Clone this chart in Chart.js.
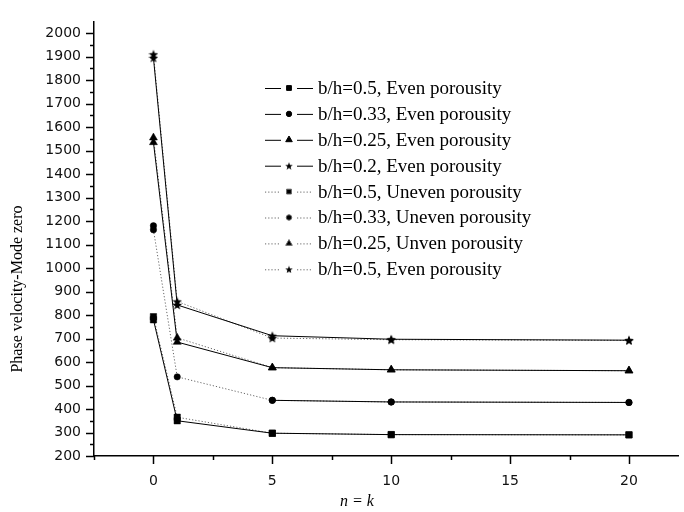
<!DOCTYPE html>
<html>
<head>
<meta charset="utf-8">
<script src="https://cdn.jsdelivr.net/npm/chart.js@4"></script>
<style>
  html, body { margin: 0; padding: 0; background: #fff; overflow: hidden; }
  #wrap { width: 684px; height: 512px; position: relative; }
</style>
</head>
<body>
<div id="wrap"><canvas id="myChart" width="684" height="512"></canvas></div>
<script>
// x positions (n = k)
const xValues = [0, 1, 5, 10, 20];

// phase velocity, mode zero
const evenB05 = [780, 350, 297, 291, 290];
const evenB033 = [1180, null, 437, 430, 428];
const evenB025 = [1535, 685, 576, 567, 563];
const evenB02 = [1895, 843, 712, 697, 693];
const unevenB05 = [793, 365, 297, 291, 290];
const unevenB033 = [1163, 537, 437, 430, 428];
const unevenB025 = [1555, 703, 576, 567, 563];
const unevenStar = [1910, 858, 702, 695, 692];

const seriesLabels = [
  "b/h=0.5, Even porousity",
  "b/h=0.33, Even porousity",
  "b/h=0.25, Even porousity",
  "b/h=0.2, Even porousity",
  "b/h=0.5, Uneven porousity",
  "b/h=0.33, Uneven porousity",
  "b/h=0.25, Unven porousity",
  "b/h=0.5, Even porousity",
];

// major tick labels; minor ticks sit halfway between them
const xTickLabels = [0, 5, 10, 15, 20];
const yTickLabels = [200, 300, 400, 500, 600, 700, 800, 900, 1000, 1100,
  1200, 1300, 1400, 1500, 1600, 1700, 1800, 1900, 2000];

// filled five point star, used as a point style
function makeStar(size) {
  const c = document.createElement("canvas");
  c.width = size;
  c.height = size;
  const g = c.getContext("2d");
  g.fillStyle = "#000";
  g.beginPath();
  for (let i = 0; i < 10; i++) {
    const r = i % 2 ? size * 0.21 : size * 0.5;
    const a = -Math.PI / 2 + (i * Math.PI) / 5;
    g.lineTo(size / 2 + r * Math.cos(a), size / 2 + 0.5 + r * Math.sin(a));
  }
  g.closePath();
  g.fill();
  return c;
}
const starBig = makeStar(10);
const starSmall = makeStar(8);

function pts(values) {
  return values.map((v, i) => ({ x: xValues[i], y: v }));
}

const solidStyle = { borderColor: "#000", borderWidth: 1, borderDash: [] };
const dotStyle = { borderColor: "#666", borderWidth: 1, borderDash: [1.2, 2] };

function series(label, values, line, style, radius, legendStyle, legendRadius) {
  return {
    label: label,
    data: pts(values),
    borderColor: line.borderColor,
    borderWidth: line.borderWidth,
    borderDash: line.borderDash,
    pointStyle: style,
    pointRadius: radius,
    pointBackgroundColor: "#000",
    pointBorderColor: "#000",
    pointBorderWidth: 0.5,
    tension: 0,
    fill: false,
    spanGaps: false,
    legendStyle: legendStyle,
    legendRadius: legendRadius,
  };
}

const datasets = [
  series(seriesLabels[0], evenB05, solidStyle, "rect", 4.5, "rect", 3.4),
  series(seriesLabels[1], evenB033, solidStyle, "circle", 3.2, "circle", 2.7),
  series(seriesLabels[2], evenB025, solidStyle, "triangle", 4.6, "triangle", 3.8),
  series(seriesLabels[3], evenB02, solidStyle, starBig, 4, starSmall, 4),
  series(seriesLabels[4], unevenB05, dotStyle, "rect", 4.5, "rect", 3.4),
  series(seriesLabels[5], unevenB033, dotStyle, "circle", 3.2, "circle", 2.7),
  series(seriesLabels[6], unevenB025, dotStyle, "triangle", 4.6, "triangle", 3.8),
  series(seriesLabels[7], unevenStar, dotStyle, starBig, 4, starSmall, 4),
];

// tick marks: long on labelled ticks, short on the ones between
const tickMarks = {
  id: "tickMarks",
  afterDraw(chart) {
    const c = chart.ctx;
    const xs = chart.scales.x;
    const ys = chart.scales.y;
    c.save();
    c.strokeStyle = "#000";
    c.lineWidth = 1.5;
    xs.ticks.forEach((t) => {
      const px = Math.round(xs.getPixelForValue(t.value)) + 0.5;
      const len = t.major ? 8 : 4;
      c.beginPath();
      c.moveTo(px, xs.top);
      c.lineTo(px, xs.top + len);
      c.stroke();
    });
    ys.ticks.forEach((t) => {
      const py = Math.round(ys.getPixelForValue(t.value)) + 0.5;
      const len = t.major ? 8 : 4;
      c.beginPath();
      c.moveTo(ys.right, py);
      c.lineTo(ys.right - len, py);
      c.stroke();
    });
    c.restore();
  },
};

// axis titles
const axisTitles = {
  id: "axisTitles",
  afterDraw(chart) {
    const c = chart.ctx;
    c.save();
    c.fillStyle = "#000";
    c.textAlign = "center";
    c.textBaseline = "middle";
    c.font = "italic 16px 'Liberation Serif'";
    c.fillText("n = k", 357, 502);
    c.translate(18, 289);
    c.rotate(-Math.PI / 2);
    c.font = "16px 'Liberation Serif'";
    c.fillText("Phase velocity-Mode zero", 0, 0);
    c.restore();
  },
};

// legend inside the plot: line, marker, line, then label
const innerLegend = {
  id: "innerLegend",
  afterDatasetsDraw(chart) {
    const c = chart.ctx;
    c.save();
    chart.data.datasets.forEach((ds, i) => {
      const y = 88 + i * 25.9;
      c.strokeStyle = ds.borderColor;
      c.lineWidth = 1;
      c.setLineDash(ds.borderDash);
      c.beginPath();
      c.moveTo(265, y + 0.5);
      c.lineTo(281, y + 0.5);
      c.moveTo(297, y + 0.5);
      c.lineTo(313, y + 0.5);
      c.stroke();
      c.setLineDash([]);
      Chart.helpers.drawPoint(c, {
        pointStyle: ds.legendStyle,
        radius: ds.legendRadius,
        borderWidth: 0.5,
        rotation: 0,
      }, 289, y);
      c.fillStyle = "#000";
      c.font = "19px 'Liberation Serif'";
      c.textAlign = "left";
      c.textBaseline = "middle";
      c.fillText(ds.label, 318, y + 1);
    });
    c.restore();
  },
};

Chart.defaults.font.family = "'DejaVu Sans'";
Chart.defaults.color = "#111";

const ctx = document.getElementById("myChart").getContext("2d");
const myChart = new Chart(ctx, {
  type: "line",
  data: { datasets: datasets },
  plugins: [tickMarks, axisTitles, innerLegend],
  options: {
    responsive: false,
    animation: false,
    events: [],
    layout: { padding: { top: 10, right: 0, left: 0, bottom: 0 } },
    plugins: {
      legend: { display: false },
      tooltip: { enabled: false },
    },
    elements: {
      line: { borderJoinStyle: "miter" },
    },
    scales: {
      x: {
        type: "linear",
        min: -2.5,
        max: 22.1,
        afterBuildTicks(scale) {
          const ticks = [];
          xTickLabels.forEach((v, i) => {
            if (i === 0) ticks.push({ value: v - 2.5, major: false });
            ticks.push({ value: v, major: true });
            if (i < xTickLabels.length - 1) {
              ticks.push({ value: (v + xTickLabels[i + 1]) / 2, major: false });
            }
          });
          scale.ticks = ticks;
        },
        afterFit(scale) {
          scale.height = 56;
        },
        grid: { display: false, drawTicks: false },
        border: { display: true, color: "#000", width: 1.5 },
        ticks: {
          autoSkip: false,
          maxRotation: 0,
          padding: 17,
          font: { size: 14 },
          callback: function (value) {
            return xTickLabels.includes(value) ? String(value) : "";
          },
        },
      },
      y: {
        type: "linear",
        min: 200,
        max: 2050,
        afterBuildTicks(scale) {
          const ticks = [];
          yTickLabels.forEach((v, i) => {
            ticks.push({ value: v, major: true });
            if (i < yTickLabels.length - 1) {
              ticks.push({ value: (v + yTickLabels[i + 1]) / 2, major: false });
            }
          });
          scale.ticks = ticks;
        },
        afterFit(scale) {
          scale.width = 94;
        },
        grid: { display: false, drawTicks: false },
        border: { display: true, color: "#000", width: 1.5 },
        ticks: {
          autoSkip: false,
          padding: 13,
          font: { size: 14 },
          callback: function (value) {
            return yTickLabels.includes(value) ? String(value) : "";
          },
        },
      },
    },
  },
});
</script>
</body>
</html>
